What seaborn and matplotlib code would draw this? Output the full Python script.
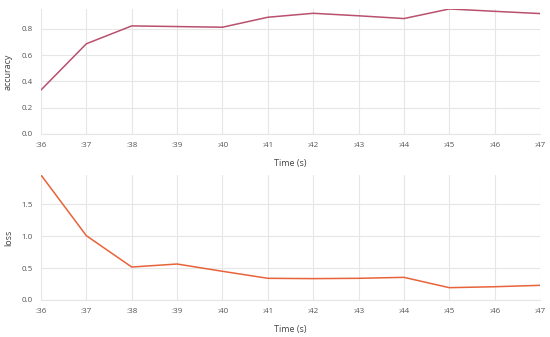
import numpy as np
import pandas as pd
import seaborn as sns
import matplotlib.pyplot as plt

seconds = [36, 37, 38, 39, 40, 41, 42, 43, 44, 45, 46, 47]
tick_labels = [":36", ":37", ":38", ":39", ":40", ":41", ":42", ":43", ":44", ":45", ":46", ":47"]
accuracy = [0.335, 0.687, 0.823, 0.818, 0.813, 0.889, 0.919, 0.900, 0.879, 0.952, 0.934, 0.917]
loss = [1.96, 1.008, 0.517, 0.564, 0.45, 0.34, 0.335, 0.34, 0.355, 0.193, 0.208, 0.23]

sns.set_style("whitegrid", {"grid.color": "#e6e6e6", "axes.edgecolor": "#e6e6e6"})
plt.rcParams["font.family"] = ["Open Sans", "DejaVu Sans"]

df = pd.DataFrame({"sec": seconds, "accuracy": accuracy, "loss": loss})

fig = plt.figure(figsize=(5.5, 3.37), dpi=100)
ax1 = fig.add_axes([0.0745, 0.6024, 0.9075, 0.371])
ax2 = fig.add_axes([0.0745, 0.1098, 0.9075, 0.371])

for ax, col, color, yticks in [
    (ax1, "accuracy", "#b8506e", [0.0, 0.2, 0.4, 0.6, 0.8]),
    (ax2, "loss", "#e8633a", [0.0, 0.5, 1.0, 1.5]),
]:
    sns.lineplot(data=df, x="sec", y=col, ax=ax, color=color, linewidth=1.1)
    ax.set_xlim(seconds[0], seconds[-1])
    ax.set_ylim(0, max(df[col]))
    ax.set_xticks(seconds)
    ax.set_xticklabels(tick_labels)
    ax.set_yticks(yticks)
    ax.set_yticklabels([f"{v:.1f}" for v in yticks])
    ax.tick_params(labelsize=5.8, colors="#555555", length=0, pad=6)
    ax.set_xlabel("Time (s)", fontsize=6.5, color="#444444", labelpad=7)
    ax.set_ylabel(col, fontsize=6.5, color="#444444", labelpad=6)
    ax.grid(True, color="#e6e6e6", linewidth=0.8)
    for s in ["top", "right", "left"]:
        ax.spines[s].set_visible(False)
    ax.spines["bottom"].set_color("#e6e6e6")

fig.savefig("out.png", dpi=100)
